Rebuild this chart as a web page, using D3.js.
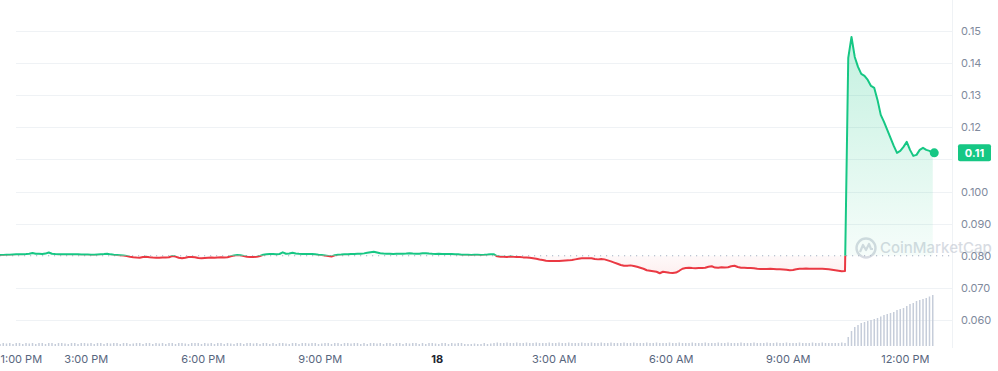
<!DOCTYPE html>
<html>
<head>
<meta charset="utf-8">
<script src="https://cdn.jsdelivr.net/npm/d3@7"></script>
<style>
  html, body { margin: 0; padding: 0; background: #fff; }
  svg { display: block; font-family: Inter, 'Noto Sans', sans-serif; }
</style>
</head>
<body>
<svg width="998" height="371"></svg>
<script>
// 24h window, one price point and one volume bar every 5 minutes
const startTime = new Date(2024, 2, 17, 12, 48);
const stepMinutes = 5;
const refPrice = 0.08;

// prices, one row per hour
const prices = [
  0.08022, 0.08025, 0.08031, 0.08031, 0.08037, 0.08044, 0.08047, 0.08047, 0.08053, 0.08062, 0.08087, 0.08062,
  0.08062, 0.08056, 0.08068, 0.08103, 0.08062, 0.08053, 0.08047, 0.08050, 0.08047, 0.08050, 0.08044, 0.08047,
  0.08047, 0.08040, 0.08037, 0.08040, 0.08034, 0.08031, 0.08037, 0.08044, 0.08053, 0.08065, 0.08044, 0.08031,
  0.08025, 0.08016, 0.08006, 0.07991, 0.07969, 0.07953, 0.07944, 0.07938, 0.07960, 0.07969, 0.07953, 0.07944,
  0.07938, 0.07938, 0.07950, 0.07944, 0.07956, 0.07994, 0.07975, 0.07938, 0.07922, 0.07938, 0.07960, 0.07963,
  0.07953, 0.07931, 0.07922, 0.07931, 0.07938, 0.07944, 0.07938, 0.07950, 0.07956, 0.07944, 0.07953, 0.07984,
  0.08006, 0.08025, 0.08016, 0.07991, 0.07969, 0.07963, 0.07960, 0.07969, 0.07994, 0.08031, 0.08047, 0.08056,
  0.08053, 0.08047, 0.08056, 0.08106, 0.08062, 0.08068, 0.08093, 0.08068, 0.08062, 0.08059, 0.08056, 0.08053,
  0.08053, 0.08044, 0.08031, 0.08022, 0.08006, 0.07991, 0.07978, 0.08016, 0.08031, 0.08037, 0.08047, 0.08047,
  0.08053, 0.08056, 0.08062, 0.08062, 0.08075, 0.08093, 0.08112, 0.08124, 0.08100, 0.08078, 0.08068, 0.08062,
  0.08062, 0.08059, 0.08062, 0.08062, 0.08062, 0.08068, 0.08078, 0.08068, 0.08062, 0.08065, 0.08075, 0.08078,
  0.08068, 0.08062, 0.08059, 0.08062, 0.08056, 0.08053, 0.08056, 0.08053, 0.08047, 0.08044, 0.08031, 0.08031,
  0.08031, 0.08028, 0.08031, 0.08031, 0.08028, 0.08031, 0.08037, 0.08047, 0.08044, 0.07984, 0.07969, 0.07969,
  0.07963, 0.07978, 0.07969, 0.07963, 0.07963, 0.07950, 0.07944, 0.07938, 0.07922, 0.07907, 0.07882, 0.07866,
  0.07845, 0.07838, 0.07835, 0.07838, 0.07838, 0.07845, 0.07851, 0.07857, 0.07870, 0.07888, 0.07907, 0.07922,
  0.07925, 0.07922, 0.07925, 0.07897, 0.07888, 0.07900, 0.07888, 0.07857, 0.07826, 0.07788, 0.07751, 0.07713,
  0.07689, 0.07689, 0.07701, 0.07682, 0.07658, 0.07627, 0.07596, 0.07549, 0.07533, 0.07518, 0.07502, 0.07455,
  0.07502, 0.07487, 0.07471, 0.07462, 0.07477, 0.07533, 0.07596, 0.07617, 0.07627, 0.07617, 0.07611, 0.07617,
  0.07617, 0.07627, 0.07658, 0.07673, 0.07633, 0.07627, 0.07642, 0.07633, 0.07642, 0.07673, 0.07689, 0.07649,
  0.07627, 0.07627, 0.07620, 0.07617, 0.07611, 0.07596, 0.07586, 0.07586, 0.07589, 0.07596, 0.07589, 0.07583,
  0.07580, 0.07571, 0.07564, 0.07549, 0.07555, 0.07580, 0.07596, 0.07599, 0.07602, 0.07599, 0.07596, 0.07596,
  0.07596, 0.07596, 0.07589, 0.07580, 0.07564, 0.07549, 0.07533, 0.07518, 0.07524, 0.14161, 0.14814, 0.14192,
  0.13881, 0.13663, 0.13600, 0.13476, 0.13289, 0.13227, 0.12854, 0.12387, 0.12169, 0.11920, 0.11671, 0.11422,
  0.11205, 0.11267, 0.11391, 0.11547, 0.11298, 0.11111, 0.11142, 0.11298, 0.11360, 0.11298, 0.11267, 0.11205
];

// volume (relative), one row per hour
const volumes = [
  2, 3, 2.5, 3, 2, 3, 3, 2, 3, 2.5, 3, 2,
  3, 3, 2, 3, 3, 2, 3, 3, 2.5, 2, 3, 3,
  2, 3, 3, 2.5, 3, 2, 3, 3, 2, 3, 2.5, 3,
  3, 2, 3, 3, 2, 2.5, 3, 3, 2, 3, 3, 2,
  3, 2.5, 3, 2, 3, 3, 2, 3, 3, 2.5, 2, 3,
  3, 3, 2, 3, 2.5, 3, 2, 3, 3, 2, 3, 2.5,
  2, 3, 3, 2, 3, 3, 2.5, 3, 2, 3, 3, 2,
  3, 2, 3, 3, 2.5, 2, 3, 3, 2, 3, 3, 2.5,
  3, 3, 2, 2.5, 3, 3, 2, 3, 3, 2, 3, 3,
  2.5, 3, 3, 2, 3, 2, 3, 3, 2.5, 3, 2, 3,
  3, 2, 3, 3, 2, 3, 2.5, 3, 3, 2, 3, 2,
  3, 3, 2.5, 2, 3, 3, 2, 3, 2.5, 3, 3, 2,
  2, 2, 2.5, 2, 2, 3, 2, 2.5, 3, 3.5, 3, 3,
  3.5, 3, 3, 3.5, 3, 3, 3.5, 3, 3, 3.5, 3, 3,
  3, 3.5, 3, 3, 3.5, 3, 3, 3.5, 3, 3, 3, 3.5,
  3, 3, 3.5, 3, 3, 3.5, 3, 3, 3.5, 3, 3, 3,
  3.5, 3, 3, 3.5, 3, 3, 3, 3.5, 3, 3, 3.5, 3,
  3, 3, 3.5, 3, 3, 3.5, 3, 3, 3, 3.5, 3, 3,
  3, 3.5, 3, 3, 3, 3.5, 3, 3, 3.5, 3, 3, 3,
  3.5, 3, 3, 3, 3.5, 3, 3, 3, 3.5, 3, 3, 3.5,
  3, 3, 3.5, 3, 3, 3, 3.5, 3, 3, 3, 3.5, 3,
  3, 3.5, 3, 3, 3, 3, 3, 3.5, 3, 9, 15, 19,
  21, 23, 24, 25, 26, 27, 28, 29.5, 31, 32, 33, 34,
  36, 37, 38, 40, 42, 43, 45, 46, 47, 48, 49.5, 51
];

const yTicks = [0.06, 0.07, 0.08, 0.09, 0.10, 0.11, 0.12, 0.13, 0.14, 0.15];
// the 0.11 tick sits under the last-price badge, so it has no label of its own
const yTickLabels = ['0.060', '0.070', '0.080', '0.090', '0.100', '', '0.12', '0.13', '0.14', '0.15'];
const xTickHours = [13, 15, 18, 21, 24, 27, 30, 33, 36]; // hours from midnight of the 17th
const xTickLabels = ['1:00 PM', '3:00 PM', '6:00 PM', '9:00 PM', '18', '3:00 AM', '6:00 AM', '9:00 AM', '12:00 PM'];
const lastLabel = '0.11';

const green = '#16c784';
const red = '#ea3943';

const svg = d3.select('svg');
const plotRight = 952;

const data = prices.map((p, i) => ({
  t: d3.timeMinute.offset(startTime, i * stepMinutes),
  p,
  v: volumes[i]
}));

const x = d3.scaleTime()
  .domain([startTime, d3.timeHour.offset(startTime, 24)])
  .range([0, 936]);
const y = d3.scaleLinear().domain([0.06, 0.15]).range([320, 31]);
const yVol = d3.scaleLinear().domain([0, 51]).range([346, 295]);
const yRef = y(refPrice);

const defs = svg.append('defs');
defs.append('clipPath').attr('id', 'above')
  .append('rect').attr('x', 0).attr('y', 0).attr('width', 998).attr('height', yRef);
defs.append('clipPath').attr('id', 'below')
  .append('rect').attr('x', 0).attr('y', yRef).attr('width', 998).attr('height', 371 - yRef);

const gUp = defs.append('linearGradient').attr('id', 'gUp')
  .attr('gradientUnits', 'userSpaceOnUse')
  .attr('x1', 0).attr('x2', 0).attr('y1', y(0.15)).attr('y2', yRef);
gUp.append('stop').attr('offset', 0).attr('stop-color', green).attr('stop-opacity', 0.26);
gUp.append('stop').attr('offset', 1).attr('stop-color', green).attr('stop-opacity', 0.04);

const gDown = defs.append('linearGradient').attr('id', 'gDown')
  .attr('gradientUnits', 'userSpaceOnUse')
  .attr('x1', 0).attr('x2', 0).attr('y1', yRef).attr('y2', y(0.07));
gDown.append('stop').attr('offset', 0).attr('stop-color', red).attr('stop-opacity', 0.03);
gDown.append('stop').attr('offset', 1).attr('stop-color', red).attr('stop-opacity', 0.12);

// Grid
svg.append('g')
  .selectAll('line')
  .data(yTicks.filter(d => d !== refPrice))
  .enter()
  .append('line')
  .attr('x1', 16)
  .attr('x2', plotRight)
  .attr('y1', d => Math.round(y(d)) + 0.5)
  .attr('y2', d => Math.round(y(d)) + 0.5)
  .attr('stroke', '#eff2f5')
  .attr('stroke-width', 1);

svg.append('line')
  .attr('x1', plotRight + 0.5).attr('x2', plotRight + 0.5)
  .attr('y1', 0).attr('y2', 348)
  .attr('stroke', '#eff2f5');

// Volume bars
svg.append('g')
  .selectAll('rect')
  .data(data)
  .enter()
  .append('rect')
  .attr('x', d => x(d.t) - 0.75)
  .attr('y', d => yVol(d.v))
  .attr('width', 1.5)
  .attr('height', d => yVol(0) - yVol(d.v))
  .attr('fill', '#c6cdda');

// Reference dotted line
svg.append('line')
  .attr('x1', 0).attr('x2', plotRight)
  .attr('y1', yRef).attr('y2', yRef)
  .attr('stroke', '#a6b0c3')
  .attr('stroke-width', 1)
  .attr('stroke-dasharray', '1.2,4.8');

// Watermark
const wm = svg.append('g').attr('transform', 'translate(866, 248)').attr('opacity', 0.55);
wm.append('circle').attr('r', 9.5).attr('fill', 'none').attr('stroke', '#b8bfcc').attr('stroke-width', 2.4);
wm.append('path')
  .attr('d', 'M-6,4 L-3,-3 L0,2 L3,-4 L5,1 L7,1')
  .attr('fill', 'none').attr('stroke', '#b8bfcc').attr('stroke-width', 2.2)
  .attr('stroke-linejoin', 'round');
wm.append('text')
  .attr('x', 14).attr('y', 0).attr('dy', '0.35em')
  .attr('font-size', 15).attr('font-weight', 500)
  .attr('fill', '#b8bfcc')
  .text('CoinMarketCap');

// Areas and line, green above the reference, red below
const area = d3.area().x(d => x(d.t)).y0(yRef).y1(d => y(d.p));
const line = d3.line().x(d => x(d.t)).y(d => y(d.p));

svg.append('path').datum(data).attr('d', area)
  .attr('fill', 'url(#gUp)').attr('clip-path', 'url(#above)');
svg.append('path').datum(data).attr('d', area)
  .attr('fill', 'url(#gDown)').attr('clip-path', 'url(#below)');
svg.append('path').datum(data).attr('d', line)
  .attr('fill', 'none').attr('stroke', green).attr('stroke-width', 2)
  .attr('stroke-linejoin', 'round').attr('clip-path', 'url(#above)');
svg.append('path').datum(data).attr('d', line)
  .attr('fill', 'none').attr('stroke', red).attr('stroke-width', 2)
  .attr('stroke-linejoin', 'round').attr('clip-path', 'url(#below)');

const last = data[data.length - 1];
svg.append('circle')
  .attr('cx', x(last.t) + 1.5).attr('cy', y(last.p))
  .attr('r', 4.5).attr('fill', green);

// Y-Axis
const yAxis = svg.append('g')
  .attr('transform', `translate(${plotRight}, 0)`)
  .call(d3.axisRight(y).tickValues(yTicks).tickFormat((d, i) => yTickLabels[i]).tickSize(0).tickPadding(9));
yAxis.select('.domain').remove();
yAxis.selectAll('text')
  .attr('font-family', 'Inter, sans-serif')
  .attr('font-size', 11)
  .attr('fill', '#808a9d');

// Last price badge
const badge = svg.append('g').attr('transform', `translate(958, ${y(last.p) - 8.5})`);
badge.append('rect').attr('width', 33).attr('height', 17).attr('rx', 2).attr('fill', green);
badge.append('text')
  .attr('x', 16.5).attr('y', 8.5).attr('dy', '0.35em')
  .attr('text-anchor', 'middle')
  .attr('font-size', 11).attr('font-weight', 700)
  .attr('fill', '#fff')
  .text(lastLabel);

// X-Axis
const xAxis = svg.append('g')
  .attr('transform', 'translate(0, 348)')
  .call(d3.axisBottom(x)
    .tickValues(xTickHours.map(h => d3.timeHour.offset(new Date(2024, 2, 17), h)))
    .tickFormat((d, i) => xTickLabels[i])
    .tickSize(0)
    .tickPadding(7));
xAxis.select('.domain').remove();
xAxis.selectAll('text')
  .attr('font-family', 'Inter, sans-serif')
  .attr('font-size', 11)
  .attr('fill', (d, i) => (xTickLabels[i] === '18' ? '#222531' : '#58667e'))
  .attr('font-weight', (d, i) => (xTickLabels[i] === '18' ? 700 : 400))
  .each(function(d) {
    // keep labels inside the left edge
    const w = this.getComputedTextLength();
    const px = x(d);
    if (px - w / 2 < 0) d3.select(this).attr('x', w / 2 - px);
  });
</script>
</body>
</html>
